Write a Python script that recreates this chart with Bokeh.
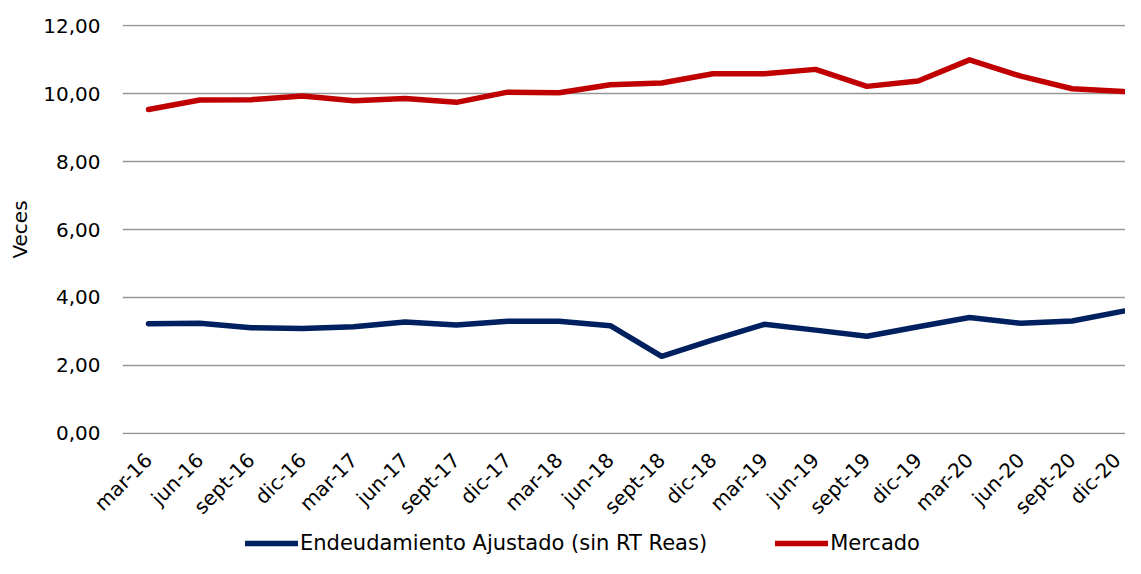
import math
from bokeh.plotting import figure
from bokeh.layouts import column
from bokeh.models import FixedTicker, Legend, LegendItem, Range1d
from bokeh.embed import file_html
from bokeh.resources import INLINE

categories = ["mar-16", "jun-16", "sept-16", "dic-16", "mar-17", "jun-17", "sept-17", "dic-17",
              "mar-18", "jun-18", "sept-18", "dic-18", "mar-19", "jun-19", "sept-19", "dic-19",
              "mar-20", "jun-20", "sept-20", "dic-20"]
endeudamiento = [3.23, 3.24, 3.11, 3.09, 3.14, 3.28, 3.19, 3.30, 3.30, 3.17,
                 2.27, 2.75, 3.21, 3.04, 2.86, 3.14, 3.41, 3.24, 3.31, 3.60]
mercado = [9.53, 9.81, 9.82, 9.93, 9.79, 9.85, 9.74, 10.04, 10.02, 10.26,
           10.31, 10.58, 10.58, 10.71, 10.21, 10.37, 10.99, 10.51, 10.14, 10.06]
y_ticks = [0, 2, 4, 6, 8, 10, 12]
y_tick_labels = ["0,00", "2,00", "4,00", "6,00", "8,00", "10,00", "12,00"]
series_names = ["Endeudamiento Ajustado (sin RT Reas)", "Mercado"]
colors = ["#002060", "#C00000"]

FONT = "DejaVu Sans"
FS = "20px"
W = 1125
H_MAIN = 532
H_LEG = 26

xs = list(range(len(categories)))

p = figure(width=W, height=H_MAIN, output_backend="svg", toolbar_location=None,
           x_range=Range1d(-0.507, 19.04), y_range=Range1d(-0.03, 12.03),
           min_border_left=122, min_border_right=0, min_border_top=24,
           min_border_bottom=98)
p.outline_line_color = None
p.background_fill_color = "white"

p.line(xs, endeudamiento, line_color=colors[0], line_width=5.5,
       line_cap="round", line_join="round")
p.line(xs, mercado, line_color=colors[1], line_width=5.5,
       line_cap="round", line_join="round")

# axes
p.xaxis.ticker = FixedTicker(ticks=xs)
p.xaxis.major_label_overrides = {i: c for i, c in zip(xs, categories)}
p.xaxis.major_label_orientation = math.pi / 4
p.yaxis.ticker = FixedTicker(ticks=y_ticks)
p.yaxis.major_label_overrides = {t: l for t, l in zip(y_ticks, y_tick_labels)}
for ax in (p.xaxis, p.yaxis):
    ax.axis_line_color = None
    ax.major_tick_line_color = None
    ax.minor_tick_line_color = None
    ax.major_tick_out = 0
    ax.major_tick_in = 0
    ax.major_label_text_font = FONT
    ax.major_label_text_font_size = FS
    ax.major_label_text_color = "black"
p.xaxis.major_label_standoff = 22
p.yaxis.major_label_standoff = 22
p.yaxis.axis_label = "Veces"
p.yaxis.axis_label_text_font = FONT
p.yaxis.axis_label_text_font_size = FS
p.yaxis.axis_label_text_font_style = "normal"
p.yaxis.axis_label_text_color = "black"
p.yaxis.axis_label_standoff = 8

p.xgrid.grid_line_color = None
p.ygrid.grid_line_color = "#979797"
p.ygrid.grid_line_width = 1.5

# legend strip below the chart
pl = figure(width=W, height=H_LEG, output_backend="svg", toolbar_location=None,
            x_range=Range1d(0, 1), y_range=Range1d(0, 1),
            min_border_left=0, min_border_right=0, min_border_top=0,
            min_border_bottom=0, x_axis_type=None, y_axis_type=None)
pl.outline_line_color = None
pl.xgrid.grid_line_color = None
pl.ygrid.grid_line_color = None
nan = float("nan")
lr = [pl.line([nan], [nan], line_color=c, line_width=5.5, line_cap="round") for c in colors]

legend = Legend(items=[LegendItem(label=n, renderers=[r]) for n, r in zip(series_names, lr)],
                orientation="horizontal", location=(123, 3),
                glyph_width=53, glyph_height=20, label_standoff=2, spacing=68,
                padding=0, margin=0, border_line_color=None,
                background_fill_alpha=0,
                label_text_font=FONT, label_text_font_size="21px",
                label_text_color="black")
pl.add_layout(legend, "center")

layout = column(p, pl, spacing=0)
open("out.html", "w").write(file_html(layout, INLINE))
